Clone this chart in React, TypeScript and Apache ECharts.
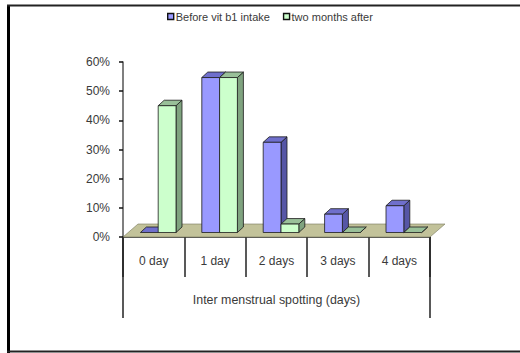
import React, { useEffect, useRef } from "react";
import * as echarts from "echarts";

const categories = ["0 day", "1 day", "2 days", "3 days", "4 days"];
const beforeIntake = [0, 55, 32, 6.5, 9.5];
const twoMonthsAfter = [45, 55, 3, 0, 0];
const yTicks = { min: 0, max: 60, step: 10 };

const FONT = '"Liberation Sans", Arial, sans-serif';
const TEXT = "#3a3a3a";
const LINE = "#222222";

// Oblique projection of the 3D columns.
const DEPTH_X = 6;
const DEPTH_Y = 5.5;
const FRONT_LIFT = 4.5;
const VALUE_SHRINK = 0.966;
const BAR_W = 17.8;
const GROUP_SHIFT = 4.5;

const poly = (points: number[][], fill: string) => ({
  type: "polygon",
  shape: { points },
  style: { fill, stroke: "#1c1c1c", lineWidth: 0.8 },
});

function columnRenderer(slot: 0 | 1, front: string, side: string, top: string) {
  return (_p: any, api: any) => {
    const value = api.value(1);
    const cx = api.coord([api.value(0), 0]);
    const yTop = api.coord([api.value(0), value])[1];
    const base = cx[1] - FRONT_LIFT;
    const tipY = base - (cx[1] - yTop) * VALUE_SHRINK;
    const x0 = cx[0] + GROUP_SHIFT + (slot === 0 ? -BAR_W : 0);
    const x1 = x0 + BAR_W;
    const children: any[] = [
      poly([[x1, base], [x1 + DEPTH_X, base - DEPTH_Y], [x1 + DEPTH_X, tipY - DEPTH_Y], [x1, tipY]], side),
      poly([[x0, tipY], [x0 + DEPTH_X, tipY - DEPTH_Y], [x1 + DEPTH_X, tipY - DEPTH_Y], [x1, tipY]], top),
    ];
    if (value > 0) children.push(poly([[x0, base], [x1, base], [x1, tipY], [x0, tipY]], front));
    return { type: "group", children };
  };
}

// Floor plate the columns stand on.
function floorRenderer(params: any) {
  const { x, y, width, height } = params.coordSys;
  const b = y + height;
  return {
    type: "polygon",
    shape: {
      points: [[x, b], [x + 15, b - 13], [x + width + 15, b - 13], [x + width, b]],
    },
    style: { fill: "#C2C29A", stroke: "#77775a", lineWidth: 0.6 },
  };
}

export default function App() {
  const ref = useRef<HTMLDivElement>(null);
  useEffect(() => {
    const chart = echarts.init(ref.current!, undefined, { renderer: "svg" });
    const pairs = (vals: number[]) => vals.map((v, i) => [i, v]);
    chart.setOption({
      animation: false,
      backgroundColor: "#ffffff",
      grid: { left: 123, top: 62, width: 307, height: 175 },
      legend: {
        top: 6,
        left: 162,
        itemGap: 13,
        itemWidth: 6,
        itemHeight: 6,
        textStyle: { fontFamily: FONT, fontSize: 11, color: TEXT, padding: [0, 0, 0, -3] },
        data: [
          { name: "Before vit b1 intake", icon: "rect", itemStyle: { color: "#9999FF", borderColor: "#111", borderWidth: 1.4 } },
          { name: "two months after", icon: "rect", itemStyle: { color: "#CCFFCC", borderColor: "#111", borderWidth: 1.4 } },
        ],
      },
      xAxis: {
        type: "category",
        data: categories,
        boundaryGap: true,
        axisLine: { lineStyle: { color: LINE, width: 1.5 } },
        axisTick: { show: true, length: 40, lineStyle: { color: LINE, width: 1.5 } },
        axisLabel: { margin: 18, fontFamily: FONT, fontSize: 12, color: TEXT },
        name: "Inter menstrual spotting (days)",
        nameLocation: "middle",
        nameGap: 57,
        nameTextStyle: { fontFamily: FONT, fontSize: 12.4, color: TEXT },
      },
      yAxis: {
        type: "value",
        min: yTicks.min,
        max: yTicks.max,
        interval: yTicks.step,
        splitLine: { show: false },
        axisLine: { show: true, lineStyle: { color: "#555", width: 1.5 } },
        axisTick: { show: true, length: 4, lineStyle: { color: "#111", width: 1.5 } },
        axisLabel: { margin: 13, fontFamily: FONT, fontSize: 12, color: TEXT, formatter: "{value}%" },
      },
      graphic: [
        // Long end rules under the category band and the outer frame.
        { type: "line", shape: { x1: 123, y1: 237, x2: 123, y2: 318 }, style: { stroke: LINE, lineWidth: 1.5 } },
        { type: "line", shape: { x1: 430, y1: 237, x2: 430, y2: 318 }, style: { stroke: LINE, lineWidth: 1.5 } },
        { type: "line", shape: { x1: 8.5, y1: 5.5, x2: 8.5, y2: 353 }, style: { stroke: "#000", lineWidth: 3 } },
        { type: "line", shape: { x1: 7, y1: 5.5, x2: 520, y2: 5.5 }, style: { stroke: "#222", lineWidth: 2 } },
        { type: "line", shape: { x1: 7, y1: 351.5, x2: 520, y2: 351.5 }, style: { stroke: "#222", lineWidth: 2 } },
      ],
      series: [
        { type: "custom", silent: true, z: 1, renderItem: floorRenderer, data: [[0, 0]], encode: { x: 0, y: 1 } },
        {
          name: "Before vit b1 intake",
          type: "custom",
          z: 2,
          itemStyle: { color: "#9999FF" },
          renderItem: columnRenderer(0, "#9999FF", "#5656A6", "#6F6FCC"),
          data: pairs(beforeIntake),
          encode: { x: 0, y: 1 },
        },
        {
          name: "two months after",
          type: "custom",
          z: 3,
          itemStyle: { color: "#CCFFCC" },
          renderItem: columnRenderer(1, "#CCFFCC", "#7FA37F", "#99C099"),
          data: pairs(twoMonthsAfter),
          encode: { x: 0, y: 1 },
        },
      ],
    });
    return () => chart.dispose();
  }, []);
  return <div ref={ref} style={{ position: "fixed", left: 0, top: 0, width: 520, height: 353 }} />;
}
